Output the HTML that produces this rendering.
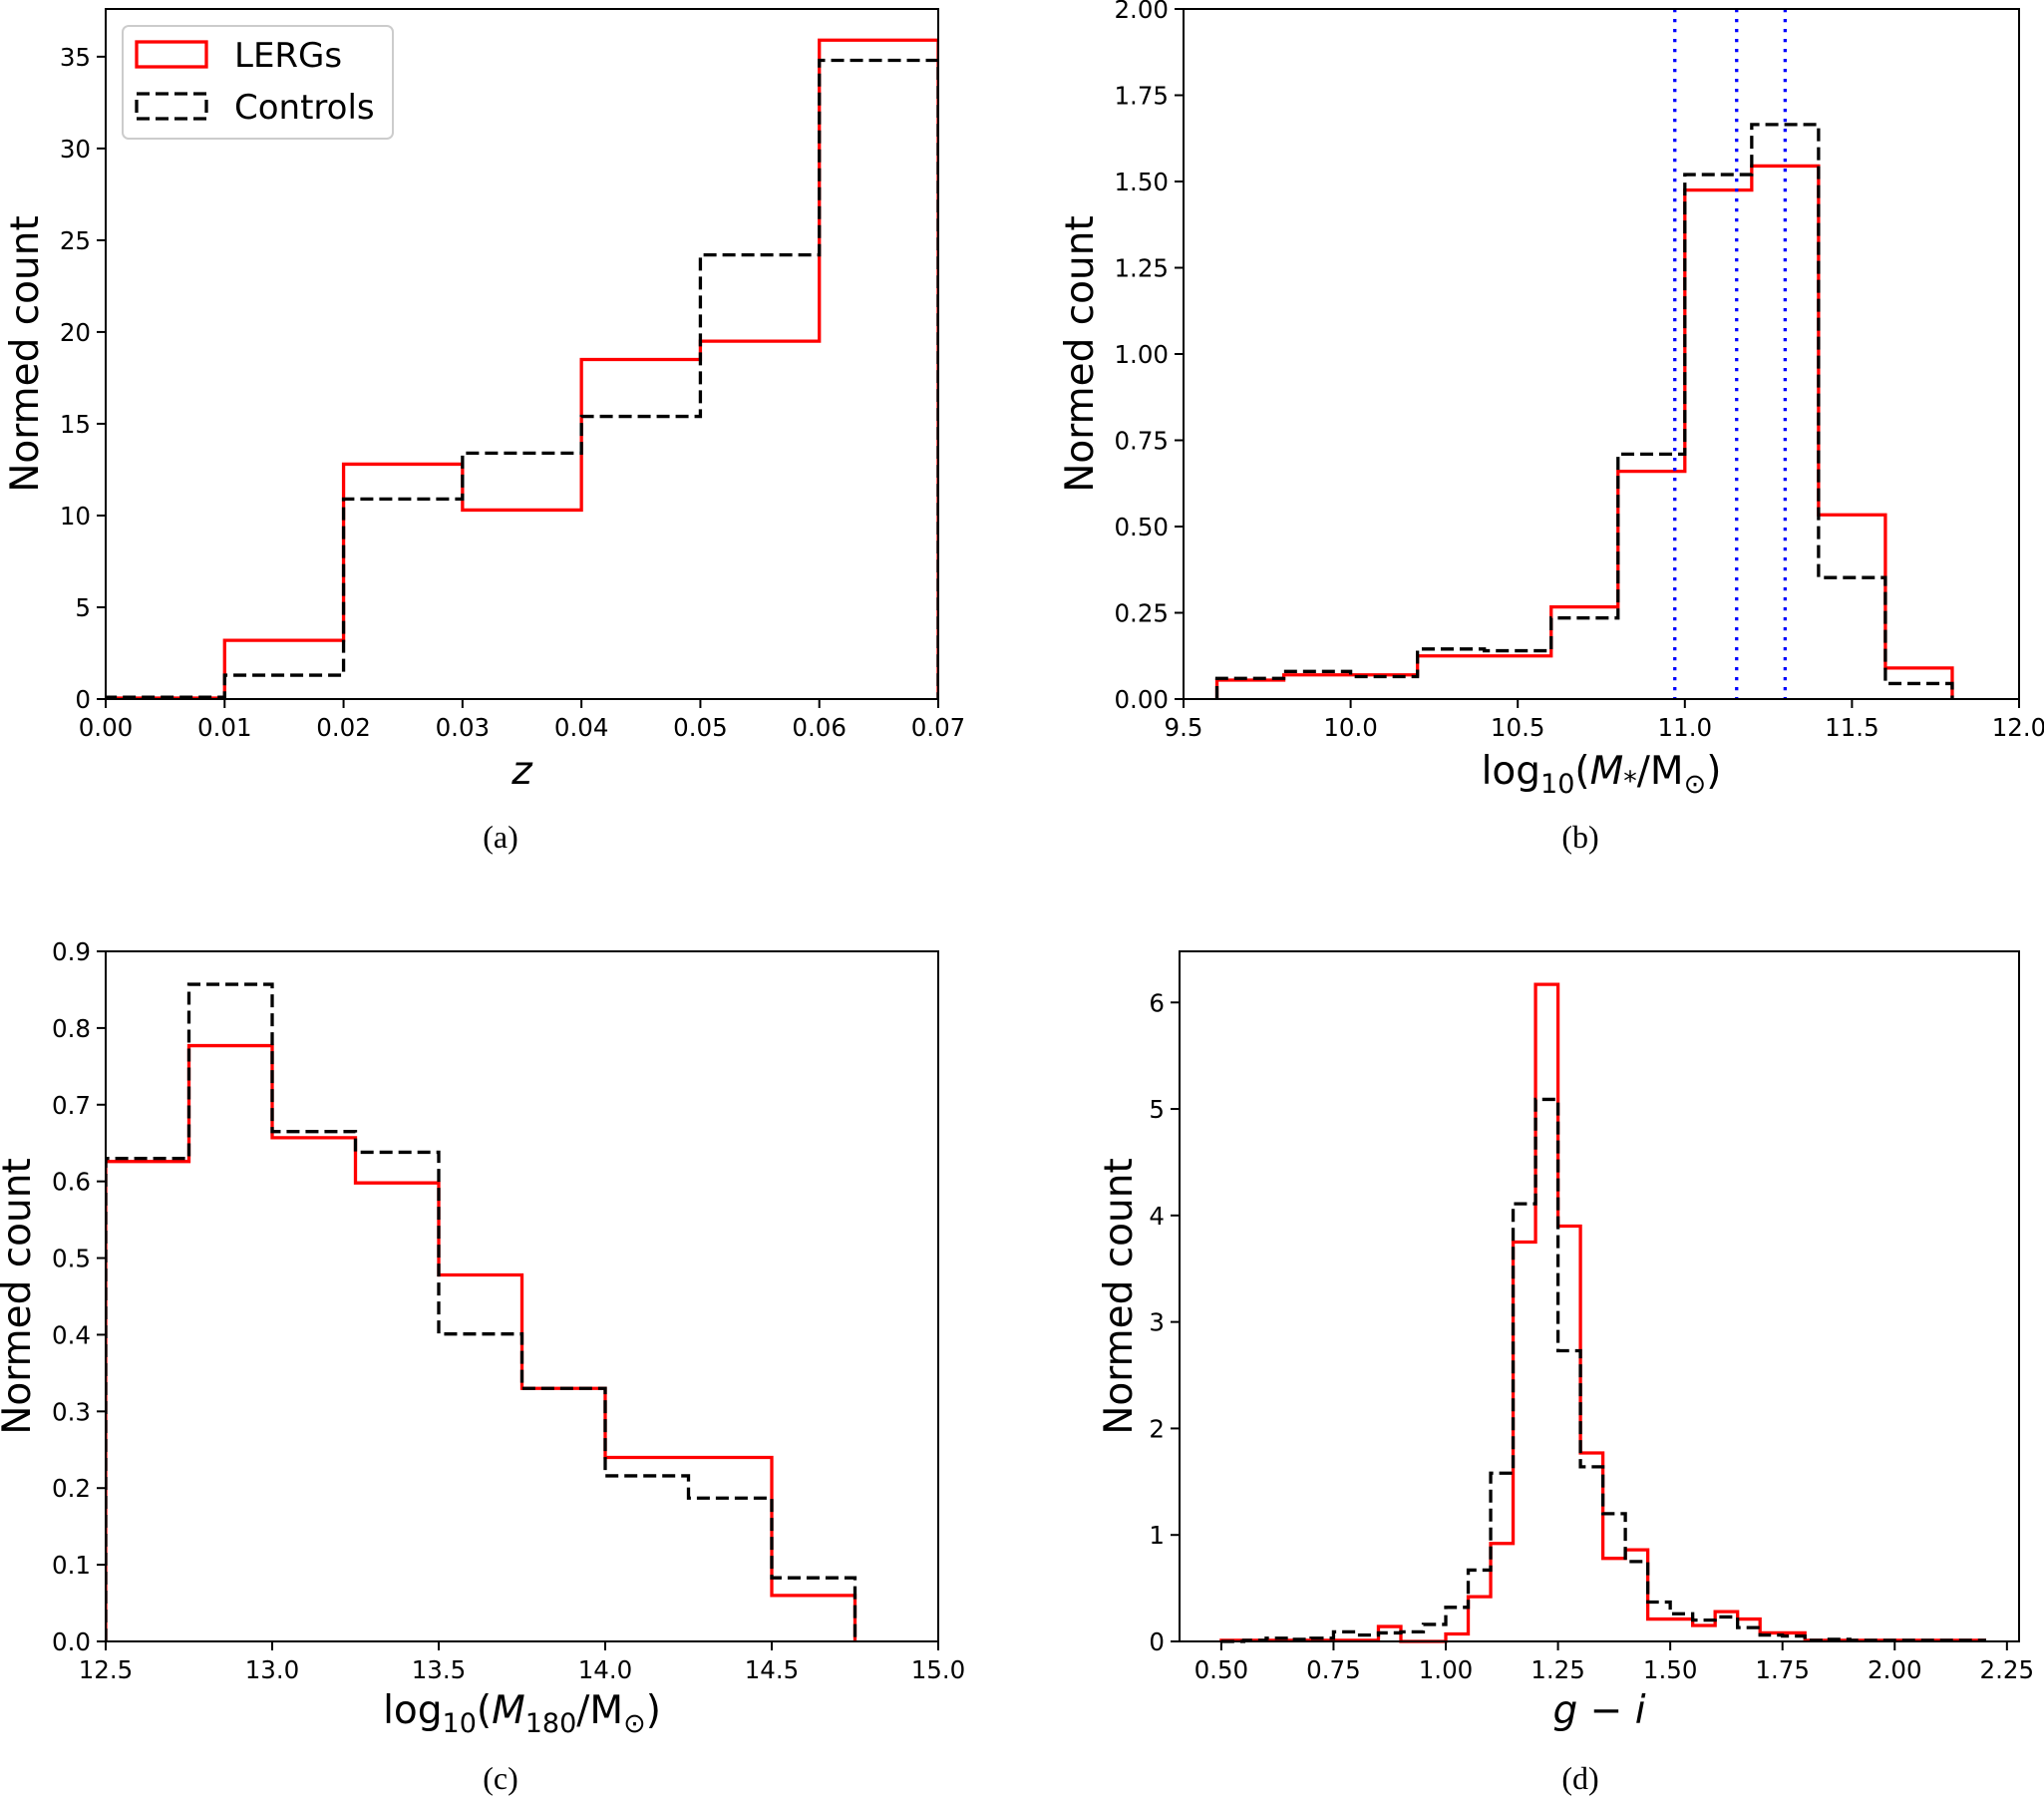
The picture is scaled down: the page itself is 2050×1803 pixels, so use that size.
<!DOCTYPE html>
<html><head><meta charset="utf-8"><style>
html,body{margin:0;padding:0;background:#fff}
svg{display:block}
text{font-family:"DejaVu Sans","Liberation Sans",sans-serif;fill:#000}
.tick{font-size:24.5px}
.lab{font-size:39px}
.cap{font-family:"Liberation Serif",serif;font-size:32px}
</style></head><body>
<svg id="fig" width="2050" height="1803" viewBox="0 0 2050 1803" xmlns="http://www.w3.org/2000/svg">
<rect width="2050" height="1803" fill="#fff"/>
</svg>
<script>
// Panel (a): redshift
const aEdges=[0,0.01,0.02,0.03,0.04,0.05,0.06,0.07];
const aLerg=[0.05,3.2,12.8,10.3,18.5,19.5,35.9];
const aCtrl=[0.1,1.3,10.9,13.4,15.4,24.2,34.8];
const aXTicks=[0,0.01,0.02,0.03,0.04,0.05,0.06,0.07];
const aXTickLabels=["0.00","0.01","0.02","0.03","0.04","0.05","0.06","0.07"];
const aYTicks=[0,5,10,15,20,25,30,35];
const aYTickLabels=["0","5","10","15","20","25","30","35"];
// Panel (b): stellar mass
const bEdges=[9.6,9.8,10.0,10.2,10.4,10.6,10.8,11.0,11.2,11.4,11.6,11.8];
const bLerg=[0.055,0.07,0.07,0.125,0.125,0.267,0.66,1.475,1.545,0.534,0.09];
const bCtrl=[0.06,0.08,0.065,0.145,0.14,0.235,0.71,1.52,1.665,0.352,0.045];
const bVLines=[10.97,11.155,11.30];
const bXTicks=[9.5,10,10.5,11,11.5,12];
const bXTickLabels=["9.5","10.0","10.5","11.0","11.5","12.0"];
const bYTicks=[0,0.25,0.5,0.75,1,1.25,1.5,1.75,2];
const bYTickLabels=["0.00","0.25","0.50","0.75","1.00","1.25","1.50","1.75","2.00"];
// Panel (c): halo mass
const cEdges=[12.5,12.75,13,13.25,13.5,13.75,14,14.25,14.5,14.75];
const cLerg=[0.626,0.777,0.657,0.598,0.478,0.33,0.24,0.24,0.06];
const cCtrl=[0.63,0.857,0.665,0.638,0.401,0.33,0.216,0.187,0.083];
const cXTicks=[12.5,13,13.5,14,14.5,15];
const cXTickLabels=["12.5","13.0","13.5","14.0","14.5","15.0"];
const cYTicks=[0,0.1,0.2,0.3,0.4,0.5,0.6,0.7,0.8,0.9];
const cYTickLabels=["0.0","0.1","0.2","0.3","0.4","0.5","0.6","0.7","0.8","0.9"];
// Panel (d): g-i colour
const dEdges=[0.5,0.55,0.6,0.65,0.7,0.75,0.8,0.85,0.9,0.95,1.0,1.05,1.1,1.15,1.2,1.25,1.3,1.35,1.4,1.45,1.5,1.55,1.6,1.65,1.7,1.75,1.8,1.85,1.9,1.95,2.0,2.05,2.1,2.15,2.2];
const dLerg=[0.01,0.01,0.01,0.01,0.01,0.01,0.01,0.14,0.0,0.0,0.07,0.42,0.92,3.75,6.17,3.9,1.77,0.78,0.86,0.21,0.21,0.15,0.28,0.21,0.08,0.08,0.01,0.01,0.01,0.01,0.01,0.01,0.01,0.01];
const dCtrl=[0.0,0.01,0.03,0.02,0.03,0.09,0.06,0.08,0.09,0.16,0.32,0.67,1.58,4.11,5.09,2.73,1.64,1.2,0.75,0.37,0.26,0.2,0.23,0.13,0.06,0.05,0.01,0.02,0.01,0.01,0.01,0.01,0.01,0.01];
const dXTicks=[0.5,0.75,1,1.25,1.5,1.75,2,2.25];
const dXTickLabels=["0.50","0.75","1.00","1.25","1.50","1.75","2.00","2.25"];
const dYTicks=[0,1,2,3,4,5,6];
const dYTickLabels=["0","1","2","3","4","5","6"];

const NS="http://www.w3.org/2000/svg";
const svg=document.getElementById('fig');
function mk(tag,attrs,parent){const e=document.createElementNS(NS,tag);for(const k in attrs)e.setAttribute(k,attrs[k]);(parent||svg).appendChild(e);return e;}

function panel(id,box,xd,yd,edges,lerg,ctrl,xt,xtl,yt,ytl,ylabX,xlabY,xlabHTML,capX,capY,capText,vlines){
  const g=mk('g',{});
  
  
  const [L,T,R,B]=box;
  const sx=v=>L+(v-xd[0])/(xd[1]-xd[0])*(R-L);
  const sy=v=>B-(v-yd[0])/(yd[1]-yd[0])*(B-T);
  function step(vals){
    let d='M'+sx(edges[0])+','+sy(0);
    for(let i=0;i<vals.length;i++){d+=' L'+sx(edges[i])+','+sy(vals[i])+' L'+sx(edges[i+1])+','+sy(vals[i]);}
    d+=' L'+sx(edges[vals.length])+','+sy(0);return d;
  }
  const cp=mk('clipPath',{id:'clip-'+id},g);
  mk('rect',{x:L,y:T-2,width:R-L,height:B-T+4},cp);
  const r=mk('path',{d:step(lerg),fill:'none',stroke:'#ff0000','stroke-width':3.3,'clip-path':'url(#clip-'+id+')'},g);
  
  
  const c=mk('path',{d:step(ctrl),fill:'none',stroke:'#000','stroke-width':3.3,'stroke-dasharray':'13,6','clip-path':'url(#clip-'+id+')'},g);
  
  
  if(vlines){vlines.forEach(v=>{
    const l=mk('line',{x1:sx(v),x2:sx(v),y1:T,y2:B,stroke:'#0000ff','stroke-width':3.3,'stroke-dasharray':'3.3,6.7'},g);
    
    
  });}
  const fr=mk('rect',{x:L,y:T,width:R-L,height:B-T,fill:'none',stroke:'#000','stroke-width':2},g);
  
  
  xt.forEach((v,i)=>{
    const x=sx(v);
    mk('line',{x1:x,x2:x,y1:B,y2:B+9,stroke:'#000','stroke-width':2},g);
    const t=mk('text',{x:x,y:B+37,'text-anchor':'middle',class:'tick'},g);
    t.textContent=xtl[i];
    
    
  });
  yt.forEach((v,i)=>{
    const y=sy(v);
    mk('line',{x1:L-9,x2:L,y1:y,y2:y,stroke:'#000','stroke-width':2},g);
    const t=mk('text',{x:L-15,y:y+9,'text-anchor':'end',class:'tick'},g);
    t.textContent=ytl[i];
    
    
  });
  const yl=mk('text',{x:ylabX,y:(T+B)/2,'text-anchor':'middle',class:'lab',transform:'rotate(-90 '+ylabX+' '+((T+B)/2)+')'},g);
  yl.textContent='Normed count';
  
  
  const xl=mk('text',{x:(L+R)/2,y:xlabY,'text-anchor':'middle',class:'lab'},g);
  xl.innerHTML=xlabHTML;
  
  
  const cap=mk('text',{x:capX,y:capY,'text-anchor':'middle',class:'cap'},g);
  cap.textContent=capText;
  
  
}

panel('a',[106,9,941,701],[0,0.07],[0,37.6],aEdges,aLerg,aCtrl,aXTicks,aXTickLabels,aYTicks,aYTickLabels,
  38,786,'<tspan font-style="italic">z</tspan>',502,850,'(a)');
panel('b',[1187,9,2025,701],[9.5,12],[0,2],bEdges,bLerg,bCtrl,bXTicks,bXTickLabels,bYTicks,bYTickLabels,
  1096,786,'log<tspan font-size="27" dy="9">10</tspan><tspan dy="-9">(</tspan><tspan font-style="italic">M</tspan><tspan font-size="27" dy="6">*</tspan><tspan dy="-6">/M</tspan><tspan font-size="27" dy="9">⊙</tspan><tspan dy="-9">)</tspan>',1585,850,'(b)',bVLines);
panel('c',[106,954,941,1646],[12.5,15],[0,0.9],cEdges,cLerg,cCtrl,cXTicks,cXTickLabels,cYTicks,cYTickLabels,
  30,1728,'log<tspan font-size="27" dy="9">10</tspan><tspan dy="-9">(</tspan><tspan font-style="italic">M</tspan><tspan font-size="27" dy="9">180</tspan><tspan dy="-9">/M</tspan><tspan font-size="27" dy="9">⊙</tspan><tspan dy="-9">)</tspan>',502,1794,'(c)');
panel('d',[1183,954,2025,1646],[0.407,2.277],[0,6.48],dEdges,dLerg,dCtrl,dXTicks,dXTickLabels,dYTicks,dYTickLabels,
  1135,1728,'<tspan font-style="italic">g</tspan> − <tspan font-style="italic">i</tspan>',1585,1794,'(d)');

// legend
const lg=mk('g',{});


mk('rect',{x:123,y:26,width:271,height:113,rx:6,fill:'#fff','fill-opacity':0.8,stroke:'#cccccc','stroke-width':2},lg);
const p1=mk('rect',{x:137,y:42,width:70,height:25,fill:'none',stroke:'#ff0000','stroke-width':3.3},lg);


const t1=mk('text',{x:235,y:67,style:'font-size:34px'},lg);t1.textContent='LERGs';


const p2=mk('rect',{x:137,y:94,width:70,height:25,fill:'none',stroke:'#000','stroke-width':3.3,'stroke-dasharray':'13,6'},lg);


const t2=mk('text',{x:235,y:119,style:'font-size:34px'},lg);t2.textContent='Controls';


</script>
</body></html>
